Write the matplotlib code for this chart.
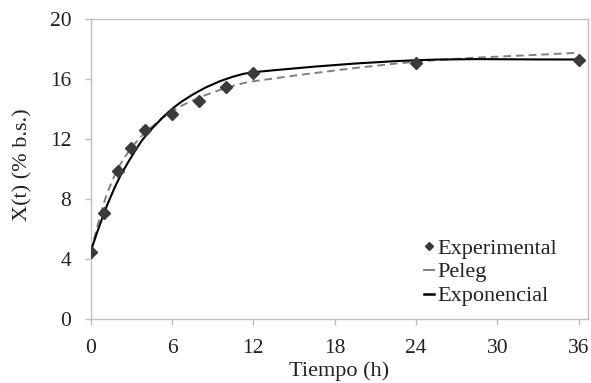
import numpy as np
import matplotlib
matplotlib.use("Agg")
import matplotlib.pyplot as plt
from matplotlib.path import Path
from matplotlib.patches import PathPatch
from matplotlib.lines import Line2D

# Data
tiempo = [0, 1, 2, 3, 4, 6, 8, 10, 12, 24, 36]
experimental = [4.5, 7.1, 9.9, 11.4, 12.6, 13.65, 14.55, 15.5, 16.4, 17.1, 17.3]
peleg = [4.5, 7.8, 10.0, 11.4, 12.4, 13.85, 14.75, 15.4, 15.85, 17.15, 17.75]
exponencial = [4.5, 7.1, 9.2, 10.8, 12.15, 14.0, 15.2, 16.0, 16.45, 17.25, 17.3]
x_ticks = [0, 6, 12, 18, 24, 30, 36]
y_ticks = [0, 4, 8, 12, 16, 20]

plt.rcParams['font.family'] = ['Liberation Serif', 'DejaVu Serif']
FS_TICK = 15.5
FS_LAB = 16
FS_YLAB = 16
FS_LEG = 16
GRAY = '#BFBFBF'
TXT = '#222222'


def smooth_path(xs, ys):
    """Smoothed line drawn as cubic Bezier segments (Hermite tangents)."""
    x = np.asarray(xs, float)
    y = np.asarray(ys, float)
    n = len(x)
    m = np.empty(n)
    m[0] = (y[1] - y[0]) / (x[1] - x[0])
    m[-1] = (y[-1] - y[-2]) / (x[-1] - x[-2])
    for i in range(1, n - 1):
        m[i] = (y[i + 1] - y[i - 1]) / (x[i + 1] - x[i - 1])
    verts = [(x[0], y[0])]
    codes = [Path.MOVETO]
    for i in range(n - 1):
        h = x[i + 1] - x[i]
        verts += [(x[i] + h / 3, y[i] + m[i] * h / 3),
                  (x[i + 1] - h / 3, y[i + 1] - m[i + 1] * h / 3),
                  (x[i + 1], y[i + 1])]
        codes += [Path.CURVE4] * 3
    return Path(verts, codes)


fig = plt.figure(figsize=(5.91, 3.83), dpi=100)
ax = fig.add_axes([90.7 / 591, 1 - 319 / 383, (588 - 90.7) / 591, (319 - 19) / 383])

ax.add_patch(PathPatch(smooth_path(tiempo, peleg), facecolor='none',
                       edgecolor='#808080', lw=1.4, linestyle=(0, (4, 2.5)), zorder=2))
ax.add_patch(PathPatch(smooth_path(tiempo, exponencial), facecolor='none',
                       edgecolor='black', lw=1.5, zorder=3))
ax.plot(tiempo, experimental, linestyle='none', marker='D', markersize=6.3,
        color='#3a3a3a', zorder=4)

ax.set_xlim(0, 36.7)
ax.set_ylim(0, 20)
ax.set_xticks(x_ticks)
ax.set_yticks(y_ticks)
for s in ax.spines.values():
    s.set_color(GRAY)
    s.set_linewidth(1.0)
ax.tick_params(axis='both', direction='out', length=4.5, width=1.0, color=GRAY,
               labelsize=FS_TICK, labelcolor=TXT)
ax.tick_params(axis='y', pad=9.5)
ax.tick_params(axis='x', pad=10)

ax.set_xlabel('Tiempo (h)', fontsize=FS_LAB, color=TXT)
ax.xaxis.set_label_coords(0.5, (319 - 361) / 300)
fig.text(23 / 591, 1 - 165 / 383, 'X(t) (% b.s.)', fontsize=FS_YLAB, color=TXT,
         rotation=90, ha='center', va='center')

handles = [
    Line2D([], [], linestyle='none', marker='D', markersize=4.5, color='#3a3a3a'),
    Line2D([], [], color='#808080', lw=1.4),
    Line2D([], [], color='black', lw=1.8),
]
leg = ax.legend(handles, ['Experimental', 'Peleg', 'Exponencial'],
                loc='upper left', bbox_to_anchor=(424 / 591, 1 - 238 / 383),
                bbox_transform=fig.transFigure, frameon=False, fontsize=FS_LEG,
                handlelength=0.45, handletextpad=0.15, labelspacing=0.15,
                borderpad=0, borderaxespad=0)
for t in leg.get_texts():
    t.set_color(TXT)

fig.savefig('out.png', dpi=100)
